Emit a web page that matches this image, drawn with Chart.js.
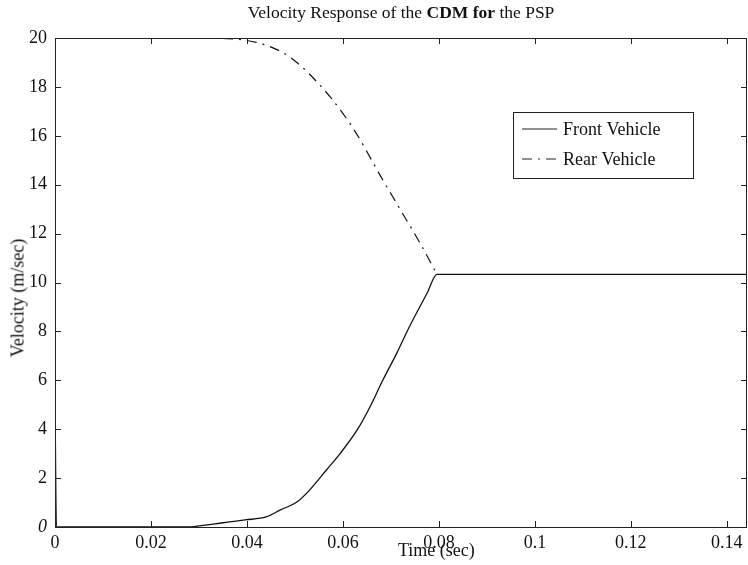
<!DOCTYPE html>
<html>
<head>
<meta charset="utf-8">
<script src="https://cdn.jsdelivr.net/npm/chart.js@4/dist/chart.umd.min.js"></script>
<style>
  html, body { margin: 0; padding: 0; background: #fff; }
  #wrap { position: relative; width: 748px; height: 565px; font-family: "Liberation Serif", "DejaVu Serif", serif; color: #111; }
  #title { position: absolute; left: 55px; width: 692px; top: 2px; text-align: center; font-size: 17.5px; line-height: 20px; }
  #xtitle { position: absolute; left: 398px; top: 540px; font-size: 18px; line-height: 20px; }
  #ytitle { position: absolute; left: 18px; top: 298px; font-size: 18px; font-weight: normal; transform: translate(-50%, -50%) rotate(-90deg); white-space: nowrap; }
  canvas { position: absolute; left: 0; top: 0; }
</style>
</head>
<body>
<div id="wrap">
  <canvas id="c" width="748" height="565"></canvas>
  <div id="title">Velocity Response of the <b>CDM for</b> the PSP</div>
  <div id="xtitle">Time (sec)</div>
  <div id="ytitle">Velocity (m/sec)</div>
</div>
<script>
// ---------- data ----------
const frontTime = [0, 0.0003, 0.017, 0.028, 0.030, 0.033, 0.036, 0.0396, 0.044, 0.047, 0.0504, 0.053, 0.0566, 0.0594,
                   0.063, 0.0656, 0.0683, 0.0712, 0.074, 0.0775, 0.0796, 0.1, 0.12, 0.1442];
const frontVel  = [5.3, 0, 0, 0, 0.05, 0.12, 0.2, 0.29, 0.41, 0.7, 1.02, 1.5, 2.34, 3.0,
                   3.98, 4.9, 6.0, 7.1, 8.25, 9.55, 10.33, 10.33, 10.33, 10.33];

const rearTime = [0, 0.02, 0.030, 0.035, 0.038, 0.0433, 0.0475, 0.051, 0.0546, 0.0573, 0.0604, 0.0631,
                  0.0677, 0.0719, 0.0761, 0.0796];
const rearVel  = [20, 20, 20, 19.98, 19.95, 19.75, 19.4, 18.9, 18.2, 17.6, 16.8, 16.0,
                  14.4, 13.0, 11.6, 10.33];

const xTicks = [0, 0.02, 0.04, 0.06, 0.08, 0.1, 0.12, 0.14];
const yTicks = [0, 2, 4, 6, 8, 10, 12, 14, 16, 18, 20];
const seriesNames = ['Front Vehicle', 'Rear Vehicle'];

const toPts = (xs, ys) => xs.map((x, i) => ({ x: x, y: ys[i] }));
const SERIF = '"Liberation Serif", "DejaVu Serif", serif';

// ---------- frame, inward ticks and legend box ----------
const framePlugin = {
  id: 'frame',
  afterDraw(chart) {
    const { ctx, chartArea: a, scales } = chart;
    ctx.save();
    ctx.strokeStyle = '#222';
    ctx.lineWidth = 1;
    ctx.strokeRect(a.left + 0.5, a.top + 0.5, a.right - a.left - 1, a.bottom - a.top);
    ctx.beginPath();
    xTicks.forEach(v => {
      const px = Math.round(scales.x.getPixelForValue(v)) + 0.5;
      ctx.moveTo(px, a.bottom); ctx.lineTo(px, a.bottom - 6);
      ctx.moveTo(px, a.top); ctx.lineTo(px, a.top + 6);
    });
    yTicks.forEach(v => {
      const py = Math.round(scales.y.getPixelForValue(v)) + 0.5;
      ctx.moveTo(a.left, py); ctx.lineTo(a.left + 6, py);
      ctx.moveTo(a.right, py); ctx.lineTo(a.right - 6, py);
    });
    ctx.stroke();

    // legend
    const bx = 513, by = 112, bw = 180, bh = 66;
    ctx.fillStyle = '#fff';
    ctx.fillRect(bx, by, bw, bh);
    ctx.strokeRect(bx + 0.5, by + 0.5, bw, bh);
    ctx.font = '18px ' + SERIF;
    ctx.fillStyle = '#111';
    ctx.textBaseline = 'middle';
    chart.data.datasets.forEach((ds, i) => {
      const y = by + 17 + i * 30;
      ctx.beginPath();
      ctx.setLineDash(ds.borderDash || []);
      ctx.moveTo(bx + 9, y); ctx.lineTo(bx + 44, y);
      ctx.stroke();
      ctx.setLineDash([]);
      ctx.fillText(ds.label, bx + 50, y + 1);
    });
    ctx.restore();
  }
};

new Chart(document.getElementById('c'), {
  type: 'line',
  data: {
    datasets: [
      { label: seriesNames[0], data: toPts(frontTime, frontVel), borderColor: '#111', borderWidth: 1.3,
        pointRadius: 0, cubicInterpolationMode: 'monotone', fill: false },
      { label: seriesNames[1], data: toPts(rearTime, rearVel), borderColor: '#111', borderWidth: 1.2,
        borderDash: [10, 6, 2, 6], pointRadius: 0, cubicInterpolationMode: 'monotone', fill: false }
    ]
  },
  options: {
    responsive: false,
    animation: false,
    layout: { padding: { top: 38, right: 1, left: 0, bottom: 0 } },
    plugins: { legend: { display: false }, title: { display: false }, tooltip: { enabled: false } },
    scales: {
      x: {
        type: 'linear', min: 0, max: 0.1442,
        grid: { display: false, drawTicks: false }, border: { display: false },
        afterFit: s => { s.height = 38; },
        afterBuildTicks: s => { s.ticks = xTicks.map(v => ({ value: v })); },
        ticks: {
          color: '#111', padding: 5, maxRotation: 0, autoSkip: false,
          font: { family: SERIF, size: 18 },
          callback: v => String(v)
        }
      },
      y: {
        min: 0, max: 20,
        grid: { display: false, drawTicks: false }, border: { display: false },
        afterFit: s => { s.width = 55; },
        afterBuildTicks: s => { s.ticks = yTicks.map(v => ({ value: v })); },
        ticks: {
          color: '#111', padding: 8, autoSkip: false,
          font: c => ({ family: SERIF, size: 18, style: c.tick && c.tick.value === 0 ? 'italic' : 'normal' }),
          callback: v => String(v)
        }
      }
    }
  },
  plugins: [framePlugin]
});
</script>
</body>
</html>
